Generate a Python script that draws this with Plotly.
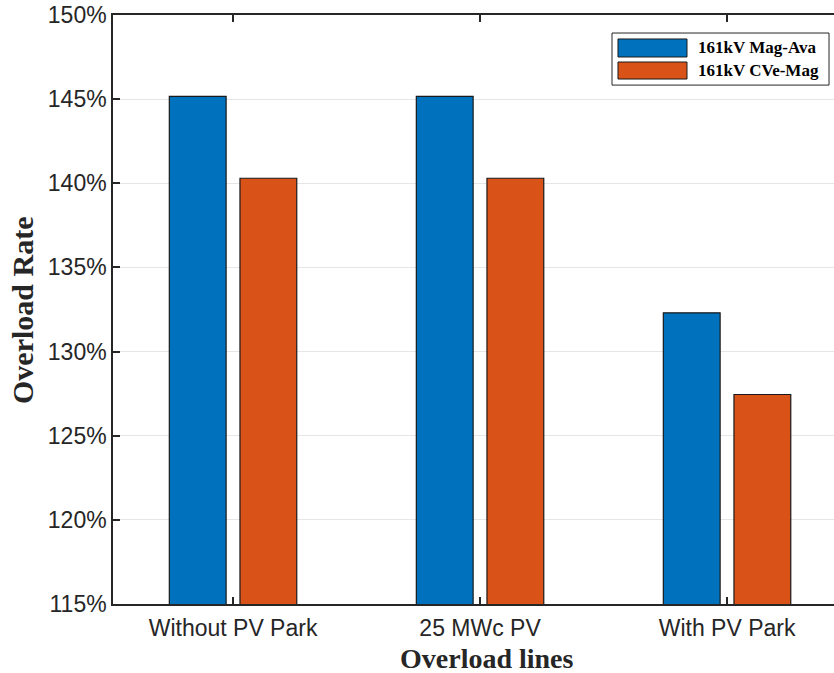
import plotly.graph_objects as go

categories = ["Without PV Park", "25 MWc PV", "With PV Park"]
mag_ava = [145.17, 145.17, 132.3]
cve_mag = [140.3, 140.3, 127.45]
series_names = ["161kV Mag-Ava", "161kV CVe-Mag"]
series_colors = ["#0072BD", "#D95319"]
tick_vals = [115, 120, 125, 130, 135, 140, 145, 150]
tick_text = [f"{v}%" for v in tick_vals]

fig = go.Figure()
for name, vals, col in zip(series_names, [mag_ava, cve_mag], series_colors):
    fig.add_trace(go.Bar(x=categories, y=vals, name=name, base=0, showlegend=False,
                         marker=dict(color=col, line=dict(color="#1a1a1a", width=1.2))))

serif = "Liberation Serif, Times New Roman"
# custom legend box (MATLAB style wide swatches)
fig.add_shape(type="rect", xref="paper", yref="paper", x0=0.6921, x1=0.9931, y0=0.881, y1=0.9694,
              line=dict(color="#262626", width=1), fillcolor="white", layer="above")
sw_y = [(0.9287, 0.9593), (0.8913, 0.9202)]
txt_y = [0.944, 0.9058]
for name, col, (y0, y1), ty in zip(series_names, series_colors, sw_y, txt_y):
    fig.add_shape(type="rect", xref="paper", yref="paper", x0=0.7004, x1=0.7961, y0=y0, y1=y1,
                  line=dict(color="#1a1a1a", width=1), fillcolor=col, layer="above")
    fig.add_annotation(xref="paper", yref="paper", x=0.8085, y=ty, xanchor="left", yanchor="middle",
                       text=f"<b>{name}</b>", showarrow=False,
                       font=dict(family=serif, size=17, color="black"))

# axis titles (MATLAB centres the x title on the full axis, which extends past the right edge)
fig.add_annotation(xref="paper", yref="paper", x=0.5187, y=-0.0925, xanchor="center", yanchor="middle",
                   text="<b>Overload lines</b>", showarrow=False,
                   font=dict(family=serif, size=28, color="#262626"))
fig.add_annotation(xref="paper", yref="paper", x=-0.1248, y=0.4975, xanchor="center", yanchor="middle",
                   text="<b>Overload Rate</b>", showarrow=False, textangle=-90,
                   font=dict(family=serif, size=30, color="#262626"))

tickfont = dict(family="Liberation Sans, Arial", size=23, color="#262626")

fig.update_layout(
    width=834, height=673,
    margin=dict(l=113, r=0, t=15, b=69),
    paper_bgcolor="white", plot_bgcolor="white",
    barmode="group", bargap=0.428, bargroupgap=0.196,
    showlegend=False,
    xaxis=dict(showline=True, linecolor="#262626", linewidth=1.5, mirror="ticks",
               ticks="inside", ticklen=7, tickcolor="#262626", tickwidth=1.5,
               tickfont=tickfont, range=[-0.486, 2.433], showgrid=False,
               ticklabelstandoff=3),
    yaxis=dict(showline=True, linecolor="#262626", linewidth=1.5, mirror=False,
               ticks="inside", ticklen=7, tickcolor="#262626", tickwidth=1.5,
               tickfont=tickfont, range=[115, 150], tickvals=tick_vals, ticktext=tick_text,
               ticklabeloverflow="allow",
               showgrid=True, gridcolor="#e6e6e6", gridwidth=1, zeroline=False),
)

fig.write_html("out.html", config={"displayModeBar": False},
               post_script="document.body.style.margin='0';")
